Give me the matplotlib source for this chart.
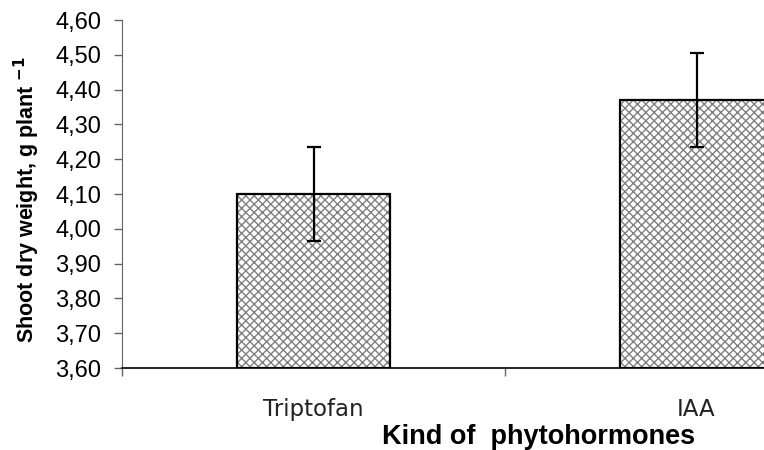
import numpy as np
import matplotlib
matplotlib.use('Agg')
import matplotlib.pyplot as plt
from matplotlib.ticker import FuncFormatter

# data
categories = ['Triptofan', 'IAA']
means = [4.10, 4.37]
errors = [0.135, 0.135]
yticks = [3.60, 3.70, 3.80, 3.90, 4.00, 4.10, 4.20, 4.30, 4.40, 4.50, 4.60]

plt.rcParams['font.family'] = ['Liberation Sans', 'DejaVu Sans']
plt.rcParams['hatch.color'] = '#808080'
plt.rcParams['hatch.linewidth'] = 1.0

fig = plt.figure(figsize=(7.64, 4.5), dpi=100)
# the original plot area runs past the right edge of the image
ax = fig.add_axes([122 / 764, 82 / 450, 766 / 764, 348 / 450])

index = np.arange(len(categories))
bar_width = 0.40

ax.bar(index, np.array(means) - 3.6, bar_width, bottom=3.6,
       color='white', edgecolor='#808080', hatch='xxxx', linewidth=0)
ax.bar(index, np.array(means) - 3.6, bar_width, bottom=3.6,
       fill=False, edgecolor='black', linewidth=1.6)
ax.errorbar(index, means, yerr=errors, fmt='none', ecolor='black',
            elinewidth=1.6, capsize=5, capthick=1.6)

ax.set_xlim(-0.5, 1.5)
ax.set_ylim(3.6, 4.6)
ax.set_yticks(yticks)
ax.yaxis.set_major_formatter(FuncFormatter(lambda v, p: f'{v:.2f}'.replace('.', ',')))
ax.tick_params(axis='y', labelsize=17, length=6, width=1, color='#666666', pad=9)

ax.set_xticks([-0.5, 0.5])
ax.set_xticklabels(['', ''])
ax.tick_params(axis='x', length=6, width=1, color='#666666')
for i, c in enumerate(categories):
    ax.text(i, -0.12, c, transform=ax.get_xaxis_transform(), ha='center',
            va='center', fontsize=16.5, family='DejaVu Sans', color='#222222')

ax.spines['top'].set_visible(False)
ax.spines['right'].set_visible(False)
ax.spines['left'].set_color('#666666')
ax.spines['bottom'].set_color('black')
ax.spines['bottom'].set_linewidth(1.2)

fig.text(539 / 764, 1 - 437 / 450, 'Kind of  phytohormones', ha='center',
         va='center', fontsize=19.5, fontweight='bold')
fig.text(27 / 764, 1 - 200 / 450, r'Shoot dry weight, g plant $^{\mathbf{-1}}$',
         rotation=90, ha='center', va='center', fontsize=15.5, fontweight='bold')

plt.savefig('out.png', dpi=100)
